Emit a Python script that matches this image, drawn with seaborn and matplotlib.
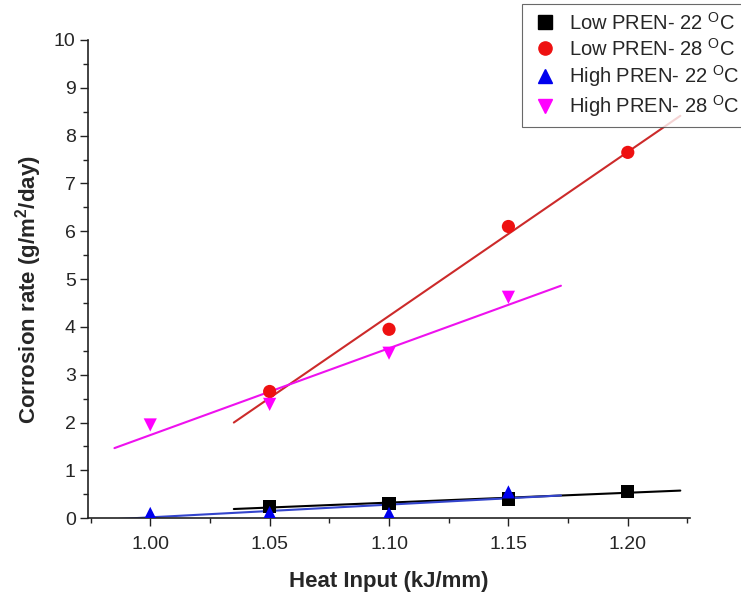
import matplotlib
matplotlib.use("Agg")
import matplotlib.pyplot as plt
import numpy as np
import pandas as pd
import seaborn as sns
from matplotlib.ticker import MultipleLocator

sns.set_theme(style="ticks")
plt.rcParams['font.family'] = ['Liberation Sans', 'DejaVu Sans']
plt.rcParams['mathtext.fontset'] = 'custom'
plt.rcParams['mathtext.rm'] = 'Liberation Sans'
plt.rcParams['mathtext.bf'] = 'Liberation Sans:bold'

# values
heat_low = [1.05, 1.10, 1.15, 1.20]
heat_high = [1.00, 1.05, 1.10, 1.15]
low_22 = [0.25, 0.30, 0.40, 0.56]
low_28 = [2.65, 3.95, 6.10, 7.65]
high_22 = [0.10, 0.12, 0.10, 0.55]
high_28 = [1.95, 2.38, 3.45, 4.62]

labels = [r"Low PREN- 22 $^{\rm O}$C", r"Low PREN- 28 $^{\rm O}$C",
          r"High PREN- 22 $^{\rm O}$C", r"High PREN- 28 $^{\rm O}$C"]
series = [(heat_low, low_22), (heat_low, low_28), (heat_high, high_22), (heat_high, high_28)]
marker_colors = ['black', '#ee1111', '#0000ee', '#ff00ff']
line_colors = ['black', '#cc2a2a', '#3344cc', '#ee11ee']
markers = ['s', 'o', '^', 'v']

rows = []
for lab, (xs, ys) in zip(labels, series):
    for x, y in zip(xs, ys):
        rows.append({'Heat': x, 'Rate': y, 'Series': lab})
df = pd.DataFrame(rows)

fig = plt.figure(figsize=(7.41, 5.97), dpi=100)
ax = fig.add_axes([0.119, 0.132, 0.812, 0.801])

# linear fits, extended a bit past the data
for lab, (xs, ys), lc in zip(labels, series, line_colors):
    k, b = np.polyfit(xs, ys, 1)
    fx = np.array([min(xs) - 0.015, max(xs) + 0.022])
    sns.lineplot(x=fx, y=k * fx + b, color=lc, lw=1.5, ax=ax, legend=False)

sns.scatterplot(data=df, x='Heat', y='Rate', hue='Series', style='Series',
                palette=dict(zip(labels, marker_colors)),
                markers=dict(zip(labels, markers)),
                s=90, edgecolor='none', ax=ax, zorder=3, legend=False)

ax.set_xlim(0.974, 1.226)
ax.set_ylim(0, 10)
ax.xaxis.set_minor_locator(MultipleLocator(0.025))
ax.yaxis.set_major_locator(MultipleLocator(1))
ax.yaxis.set_minor_locator(MultipleLocator(0.5))
ax.set_xticks([1.00, 1.05, 1.10, 1.15, 1.20])
ax.set_xticklabels(['1.00', '1.05', '1.10', '1.15', '1.20'])
ax.tick_params(which='major', direction='out', length=6, width=1, labelsize=14, color='#222222')
ax.tick_params(axis='y', which='major', pad=3)
ax.tick_params(axis='x', which='major', pad=7)
ax.tick_params(which='minor', direction='out', length=3.5, width=1, color='#222222')
for s in ['top', 'right']:
    ax.spines[s].set_visible(False)
for s in ['left', 'bottom']:
    ax.spines[s].set_color('#222222')
    ax.spines[s].set_linewidth(1.2)

ax.set_xlabel('Heat Input (kJ/mm)', fontsize=16, fontweight='bold', labelpad=13)
ax.set_ylabel(r'Corrosion rate (g/m$^{\mathbf{2}}$/day)', fontsize=16, fontweight='bold')
ax.yaxis.set_label_coords(-0.073, 0.477)

# legend proxies built from the same marker styles
handles = [plt.Line2D([], [], ls='none', marker=m, color=c, markersize=9.5)
           for m, c in zip(markers, marker_colors)]
leg = fig.legend(handles=handles, labels=labels, loc='upper left', bbox_to_anchor=(0.704, 0.994),
                 fontsize=14.5, frameon=True, fancybox=False, edgecolor='#444444',
                 handletextpad=0.45, borderpad=0.4, labelspacing=0.2,
                 handlelength=1.5, borderaxespad=0)
leg.get_frame().set_linewidth(0.8)

fig.savefig('out.png', dpi=100)
